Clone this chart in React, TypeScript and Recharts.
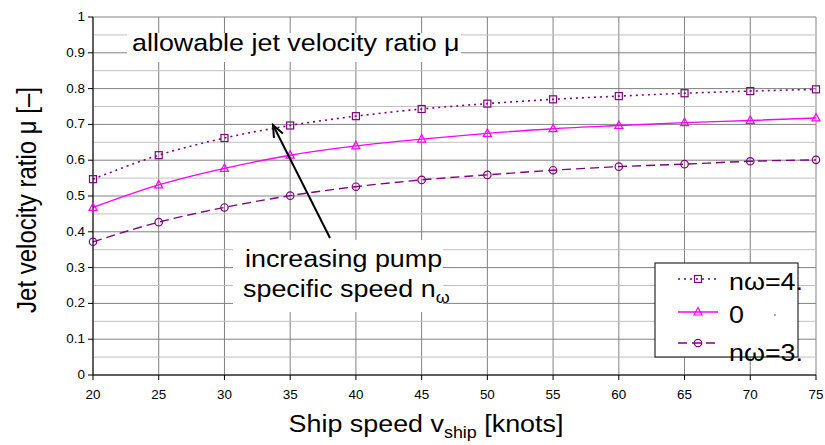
import React from 'react';
import { LineChart, Line, XAxis, YAxis, CartesianGrid, ReferenceLine } from 'recharts';

const speeds = [20, 25, 30, 35, 40, 45, 50, 55, 60, 65, 70, 75];
const muHigh = [0.547, 0.614, 0.662, 0.697, 0.723, 0.743, 0.758, 0.770, 0.779, 0.787, 0.793, 0.798];
const muMid = [0.468, 0.531, 0.577, 0.614, 0.640, 0.659, 0.675, 0.688, 0.697, 0.705, 0.711, 0.718];
const muLow = [0.372, 0.427, 0.468, 0.501, 0.526, 0.545, 0.559, 0.572, 0.582, 0.589, 0.597, 0.601];
const xTicks = [20, 25, 30, 35, 40, 45, 50, 55, 60, 65, 70, 75];
const yTicks = [0, 0.1, 0.2, 0.3, 0.4, 0.5, 0.6, 0.7, 0.8, 0.9, 1];
const yMinor = [0.05, 0.15, 0.25, 0.35, 0.45, 0.55, 0.65, 0.75, 0.85, 0.95];
const legendLabels = ['nω=4.', '0', 'nω=3.'];

const data = speeds.map((v, i) => ({ v, high: muHigh[i], mid: muMid[i], low: muLow[i] }));

const FONT = '"Liberation Sans", Arial, sans-serif';
const SX = 1.12;
const PURPLE = '#800080';
const MAGENTA = '#ff00ff';

const SquareDot = (p: any) => (
  <rect key={`s${p.index}`} x={p.cx - 3.5} y={p.cy - 3.5} width={7} height={7} fill="none" stroke={PURPLE} strokeWidth={1.2} />
);
const TriDot = (p: any) => (
  <polygon key={`t${p.index}`} points={`${p.cx},${p.cy - 4.5} ${p.cx - 4},${p.cy + 3} ${p.cx + 4},${p.cy + 3}`} fill="none" stroke={MAGENTA} strokeWidth={1.2} />
);
const CircDot = (p: any) => (
  <circle key={`c${p.index}`} cx={p.cx} cy={p.cy} r={3.7} fill="none" stroke={PURPLE} strokeWidth={1.2} />
);

const XTick = (p: any) => (
  <text transform={`translate(${p.x},${p.y + 17}) scale(${SX},1)`} textAnchor="middle" fontSize={12} fontFamily={FONT} fill="#000">
    {p.payload.value}
  </text>
);
const YTick = (p: any) => (
  <text transform={`translate(${p.x - 1},${p.y + 4}) scale(${SX},1)`} textAnchor="end" fontSize={12} fontFamily={FONT} fill="#000">
    {p.payload.value}
  </text>
);

function Arrow({ x1, y1, x2, y2 }: { x1: number; y1: number; x2: number; y2: number }) {
  const dx = x2 - x1, dy = y2 - y1;
  const len = Math.sqrt(dx * dx + dy * dy);
  const ux = dx / len, uy = dy / len;
  const hl = 12, hw = 5;
  const bx = x2 - ux * hl, by = y2 - uy * hl;
  const px = -uy, py = ux;
  return (
    <g stroke="#000" strokeWidth={2} fill="none">
      <line x1={x1} y1={y1} x2={x2} y2={y2} />
      <polyline points={`${bx + px * hw},${by + py * hw} ${x2},${y2} ${bx - px * hw},${by - py * hw}`} />
    </g>
  );
}

const legendStyles = [
  { color: PURPLE, dash: '2 4', Dot: SquareDot },
  { color: MAGENTA, dash: undefined, Dot: TriDot },
  { color: PURPLE, dash: '9 5', Dot: CircDot },
];

export default function App() {
  return (
    <div style={{ position: 'absolute', left: 0, top: 0, width: 825, height: 445, background: '#fff' }}>
      <LineChart width={825} height={445} data={data} margin={{ top: 17, right: 9, bottom: 30, left: 0 }}>
        {yMinor.map((m) => (
          <ReferenceLine key={m} y={m} stroke="#c0c0c0" strokeWidth={1} />
        ))}
        <CartesianGrid stroke="#808080" strokeWidth={1} />
        <XAxis
          dataKey="v"
          type="number"
          domain={[20, 75]}
          ticks={xTicks}
          height={40}
          tickSize={5}
          axisLine={{ stroke: '#000' }}
          tickLine={{ stroke: '#000' }}
          tick={<XTick />}
          interval={0}
        />
        <YAxis
          type="number"
          domain={[0, 1]}
          ticks={yTicks}
          width={93}
          tickSize={5}
          axisLine={{ stroke: '#000' }}
          tickLine={{ stroke: '#000' }}
          tick={<YTick />}
          interval={0}
        />
        <Line type="monotone" dataKey="high" stroke={PURPLE} strokeWidth={1.6} strokeDasharray="2 4" dot={SquareDot} isAnimationActive={false} />
        <Line type="monotone" dataKey="mid" stroke={MAGENTA} strokeWidth={1.4} dot={TriDot} isAnimationActive={false} />
        <Line type="monotone" dataKey="low" stroke={PURPLE} strokeWidth={1.4} strokeDasharray="9 5" dot={CircDot} isAnimationActive={false} />
      </LineChart>
      <svg width={825} height={445} style={{ position: 'absolute', left: 0, top: 0, pointerEvents: 'none' }} fontFamily={FONT}>
        <rect x={127} y={33} width={334} height={29} fill="#fff" />
        <text transform={`translate(132,51) scale(${SX},1)`} fontSize={24} fill="#000">allowable jet velocity ratio μ</text>

        <rect x={233} y={240} width={210} height={72} fill="#fff" />
        <text transform={`translate(245,267) scale(${SX},1)`} fontSize={24} fill="#000">increasing pump</text>
        <text transform={`translate(243,297) scale(${SX},1)`} fontSize={24} fill="#000">
          specific speed n<tspan fontSize={16} dy={6}>ω</tspan>
        </text>
        <Arrow x1={330} y1={238} x2={273} y2={125} />

        <text transform={`translate(36,200) scale(${SX},1) rotate(-90)`} textAnchor="middle" fontSize={24} fill="#000">Jet velocity ratio μ [–]</text>
        <text transform={`translate(426,432) scale(${SX},1)`} textAnchor="middle" fontSize={24} fill="#000">
          Ship speed v<tspan fontSize={16} dy={6}>ship</tspan><tspan dy={-6}> [knots]</tspan>
        </text>

        <rect x={655} y={263} width={143} height={94} fill="#fff" stroke="#000" strokeWidth={1} />
        {legendLabels.map((lab, i) => {
          const ly = [279, 312, 343][i];
          const ty = [290, 323, 361][i];
          const st = legendStyles[i];
          const D = st.Dot;
          return (
            <g key={lab + i}>
              <line x1={678} y1={ly} x2={718} y2={ly} stroke={st.color} strokeWidth={1.6} strokeDasharray={st.dash} />
              {D({ cx: 698, cy: ly, index: 100 + i })}
              <text transform={`translate(729,${ty}) scale(${SX},1)`} fontSize={24} fill="#000">{lab}</text>
            </g>
          );
        })}
        <circle cx={775} cy={315} r={0.8} fill="#444" />
      </svg>
    </div>
  );
}
